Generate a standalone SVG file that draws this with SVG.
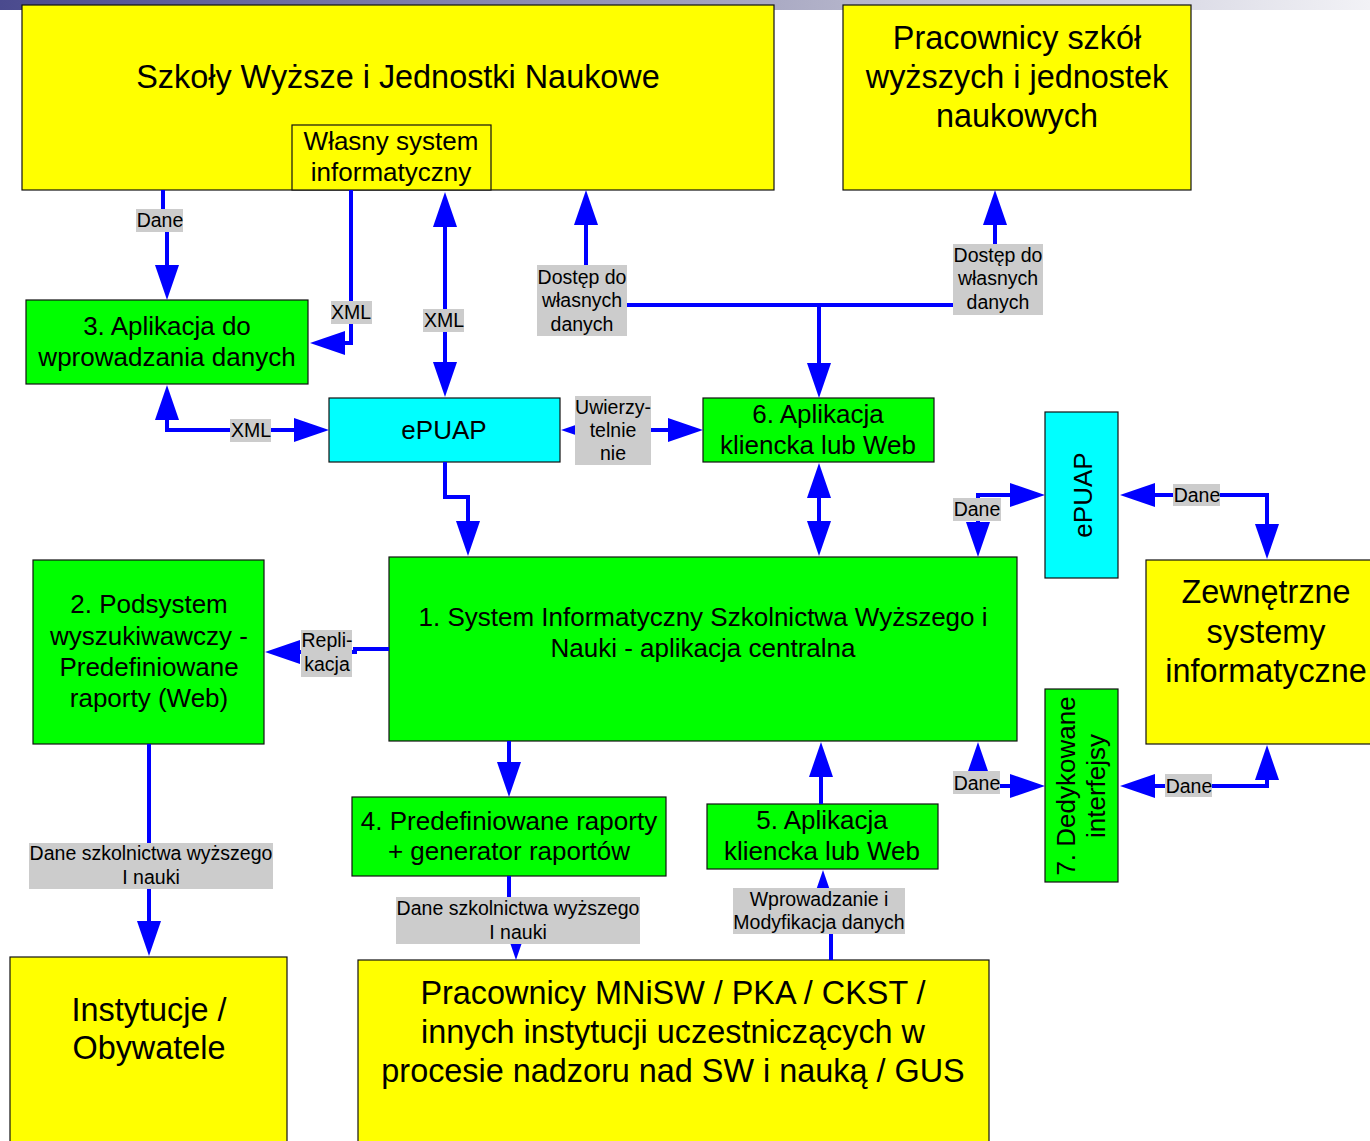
<svg xmlns="http://www.w3.org/2000/svg" width="1370" height="1141" viewBox="0 0 1370 1141">
<defs>
<linearGradient id="bar" x1="0" y1="0" x2="1" y2="0">
<stop offset="0" stop-color="#4a4a8e"/>
<stop offset="0.55" stop-color="#a8a8c2"/>
<stop offset="1" stop-color="#f2f2f6"/>
</linearGradient>
<marker id="ah" viewBox="0 0 35 24" refX="0" refY="12" markerWidth="35" markerHeight="24" markerUnits="userSpaceOnUse" orient="auto-start-reverse">
<path d="M0,0 L35,12 L0,24 Z" fill="#0000ff"/>
</marker>
<style>
.box{stroke:#111;stroke-width:1.2}
.y{fill:#ffff00}.g{fill:#00ff00}.c{fill:#00ffff}
text{font-family:"Liberation Sans",Arial,sans-serif;fill:#000;text-anchor:middle}
.t32{font-size:32.4px}.t26{font-size:26px}.t19{font-size:19.5px}
.ln{fill:none;stroke:#0000ff;stroke-width:4}
.a2{marker-start:url(#ah);marker-end:url(#ah)}
.a1{marker-end:url(#ah)}
.lb{fill:#cccccc}
</style>
</defs>
<rect x="0" y="0" width="1370" height="10" fill="url(#bar)"/>

<g id="szkoly">
<rect class="box y" x="22" y="5" width="752" height="185"/>
<text class="t32" x="398" y="88">Szkoły Wyższe i Jednostki Naukowe</text>
</g>
<g id="wlasny">
<rect class="box y" x="292" y="125" width="199" height="65"/>
<text class="t26" x="391" y="150">Własny system</text>
<text class="t26" x="391" y="181">informatyczny</text>
</g>
<g id="pracownicy-szkol">
<rect class="box y" x="843" y="5" width="348" height="185"/>
<text class="t32" x="1017" y="49">Pracownicy szkół</text>
<text class="t32" x="1017" y="88">wyższych i jednostek</text>
<text class="t32" x="1017" y="127">naukowych</text>
</g>
<g id="app3">
<rect class="box g" x="26" y="300" width="282" height="84"/>
<text class="t26" x="167" y="335">3. Aplikacja do</text>
<text class="t26" x="167" y="366">wprowadzania danych</text>
</g>
<g id="epuap1">
<rect class="box c" x="329" y="398" width="231" height="64"/>
<text class="t26" x="444" y="439">ePUAP</text>
</g>
<g id="app6">
<rect class="box g" x="703" y="398" width="231" height="64"/>
<text class="t26" x="818" y="423">6. Aplikacja</text>
<text class="t26" x="818" y="454">kliencka lub Web</text>
</g>
<g id="epuap2">
<rect class="box c" x="1045" y="412" width="73" height="166"/>
<text class="t26" transform="translate(1092,495) rotate(-90)" x="0" y="0">ePUAP</text>
</g>
<g id="system1">
<rect class="box g" x="389" y="557" width="628" height="184"/>
<text class="t26" x="703" y="626">1. System Informatyczny Szkolnictwa Wyższego i</text>
<text class="t26" x="703" y="657">Nauki - aplikacja centralna</text>
</g>
<g id="podsystem2">
<rect class="box g" x="33" y="560" width="231" height="184"/>
<text class="t26" x="149" y="613">2. Podsystem</text>
<text class="t26" x="149" y="645">wyszukiwawczy -</text>
<text class="t26" x="149" y="676">Predefiniowane</text>
<text class="t26" x="149" y="707">raporty (Web)</text>
</g>
<g id="zewnetrzne">
<rect class="box y" x="1146" y="560" width="240" height="184"/>
<text class="t32" x="1266" y="603">Zewnętrzne</text>
<text class="t32" x="1266" y="643">systemy</text>
<text class="t32" x="1266" y="682">informatyczne</text>
</g>
<g id="interfejsy7">
<rect class="box g" x="1045" y="689" width="73" height="193"/>
<g transform="translate(1082,786) rotate(-90)">
<text class="t26" x="0" y="-7">7. Dedykowane</text>
<text class="t26" x="0" y="23">interfejsy</text>
</g>
</g>
<g id="raporty4">
<rect class="box g" x="352" y="797" width="314" height="79"/>
<text class="t26" x="509" y="830">4. Predefiniowane raporty</text>
<text class="t26" x="509" y="860">+ generator raportów</text>
</g>
<g id="app5">
<rect class="box g" x="707" y="804" width="231" height="65"/>
<text class="t26" x="822" y="829">5. Aplikacja</text>
<text class="t26" x="822" y="860">kliencka lub Web</text>
</g>
<g id="instytucje">
<rect class="box y" x="10" y="957" width="277" height="190"/>
<text class="t32" x="149" y="1021">Instytucje /</text>
<text class="t32" x="149" y="1059">Obywatele</text>
</g>
<g id="pracownicy-mnisw">
<rect class="box y" x="358" y="960" width="631" height="190"/>
<text class="t32" x="673" y="1004">Pracownicy MNiSW / PKA / CKST /</text>
<text class="t32" x="673" y="1043">innych instytucji uczestniczących w</text>
<text class="t32" x="673" y="1082">procesie nadzoru nad SW i nauką / GUS</text>
</g>

<g id="connectors">
<path class="ln a1" d="M163,190 V220 H167 V265"/>
<path class="ln a1" d="M351,190 V343 H345"/>
<path class="ln a2" d="M445,227 V362"/>
<path class="ln a2" d="M167,420 V430 H294"/>
<path class="ln a1" d="M586,265 V225"/>
<path class="ln" d="M627,305 H953"/>
<path class="ln a1" d="M995,247 V225"/>
<path class="ln a1" d="M819,305 V363"/>
<path class="ln a2" d="M596,430 H668"/>
<path class="ln a1" d="M445,462 V497 H468 V521"/>
<path class="ln a2" d="M819,498 V521"/>
<path class="ln a2" d="M978,522 V495 H1010"/>
<path class="ln a2" d="M1155,495 H1267 V524"/>
<path class="ln a2" d="M978,777 V786 H1010"/>
<path class="ln a2" d="M1155,786 H1267 V780"/>
<path class="ln a1" d="M389,649 H355 V652 H300"/>
<path class="ln a1" d="M149,744 V921"/>
<path class="ln a1" d="M509,741 V762"/>
<path class="ln a1" d="M509,876 V920 H516 V925"/>
<path class="ln a1" d="M821,804 V777"/>
<path class="ln a1" d="M831,960 V920 H823 V905"/>

<g id="labels">
<rect class="lb" x="136" y="209" width="47" height="23"/>
<text class="t19" x="160" y="227">Dane</text>
<rect class="lb" x="331" y="301" width="41" height="23"/>
<text class="t19" x="351" y="319">XML</text>
<rect class="lb" x="423" y="309" width="41" height="23"/>
<text class="t19" x="444" y="327">XML</text>
<rect class="lb" x="230" y="419" width="41" height="23"/>
<text class="t19" x="251" y="437">XML</text>
<rect class="lb" x="537" y="265" width="90" height="71"/>
<text class="t19" x="582" y="284">Dostęp do</text>
<text class="t19" x="582" y="307">własnych</text>
<text class="t19" x="582" y="331">danych</text>
<rect class="lb" x="953" y="244" width="90" height="71"/>
<text class="t19" x="998" y="262">Dostęp do</text>
<text class="t19" x="998" y="285">własnych</text>
<text class="t19" x="998" y="309">danych</text>
<rect class="lb" x="575" y="396" width="76" height="69"/>
<text class="t19" x="613" y="414">Uwierzy-</text>
<text class="t19" x="613" y="437">telnie</text>
<text class="t19" x="613" y="460">nie</text>
<rect class="lb" x="953" y="498" width="48" height="23"/>
<text class="t19" x="977" y="516">Dane</text>
<rect class="lb" x="1173" y="484" width="47" height="22"/>
<text class="t19" x="1197" y="502">Dane</text>
<rect class="lb" x="953" y="771" width="47" height="23"/>
<text class="t19" x="977" y="790">Dane</text>
<rect class="lb" x="1165" y="774" width="47" height="23"/>
<text class="t19" x="1189" y="793">Dane</text>
<rect class="lb" x="301" y="630" width="51" height="47"/>
<text class="t19" x="327" y="647">Repli-</text>
<text class="t19" x="327" y="671">kacja</text>
<rect class="lb" x="29" y="843" width="244" height="46"/>
<text class="t19" x="151" y="860">Dane szkolnictwa wyższego</text>
<text class="t19" x="151" y="884">I nauki</text>
<rect class="lb" x="396" y="897" width="244" height="47"/>
<text class="t19" x="518" y="915">Dane szkolnictwa wyższego</text>
<text class="t19" x="518" y="939">I nauki</text>
<rect class="lb" x="733" y="888" width="172" height="46"/>
<text class="t19" x="819" y="906">Wprowadzanie i</text>
<text class="t19" x="819" y="929">Modyfikacja danych</text>
</g>
</g>
</svg>
